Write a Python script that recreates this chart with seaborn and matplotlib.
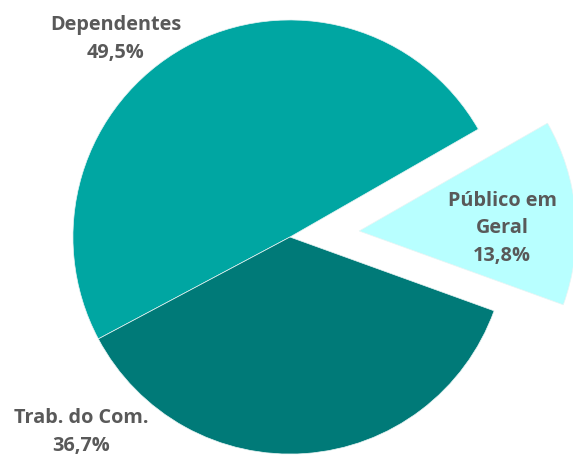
import matplotlib
matplotlib.use("Agg")
import matplotlib.pyplot as plt
import seaborn as sns

# slice data (order follows the pie, clockwise from the lower-left edge)
categorias = ["Dependentes", "Público em\nGeral", "Trab. do Com."]
percentuais = [49.5, 13.8, 36.7]
cores = ["#00A6A2", "#B8FFFF", "#007A78"]
destaque = [0, 0.32, 0]

sns.set_theme(style="white")
plt.rcParams['font.family'] = ['Open Sans', 'DejaVu Sans']

fig = plt.figure(figsize=(5.73, 4.61), dpi=100)
ax = fig.add_axes([0, 0, 1, 1])

wedges, _ = ax.pie(percentuais, colors=cores, explode=destaque,
                   startangle=208, counterclock=False, radius=1,
                   wedgeprops=dict(linewidth=0.5, edgecolor="#e8f4f4"))

# label placement (data coords, pie radius = 1)
pos_rot = [(-0.802, 0.912), (0.977, 0.041), (-0.963, -0.899)]
for nome, p, (x, y) in zip(categorias, percentuais, pos_rot):
    txt = nome + "\n" + ("%.1f%%" % p).replace(".", ",")
    ax.text(x, y, txt, ha="center", va="center", fontsize=14.3,
            fontweight="bold", color="#595959", linespacing=1.5)

ax.set_xlim(-1.336, 1.304)
ax.set_ylim(-1.032, 1.092)
ax.set_aspect("equal")
ax.axis("off")

plt.savefig("out.png", dpi=100)
